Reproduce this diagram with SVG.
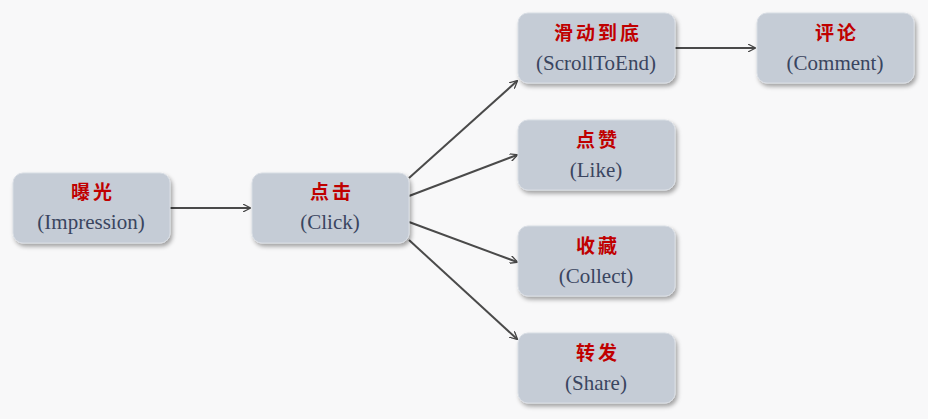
<svg xmlns="http://www.w3.org/2000/svg" width="928" height="419" viewBox="0 0 928 419">
<defs>
<filter id="sh" x="-10%" y="-10%" width="125%" height="135%"><feDropShadow dx="2" dy="3" stdDeviation="2" flood-color="#000" flood-opacity="0.35"/></filter>
<marker id="ah" viewBox="0 0 10 10" refX="9" refY="5" markerWidth="8" markerHeight="8" orient="auto" markerUnits="userSpaceOnUse"><path d="M0,0 L10,5 L0,10" fill="none" stroke="#444" stroke-width="1.6"/></marker>
<style>
.box{fill:#c5ccd6;stroke:#d8dde4;stroke-width:1;filter:url(#sh)}
.zh{font-family:"Noto Sans CJK SC",sans-serif;font-weight:bold;font-size:19px;fill:#c00000;text-anchor:middle;letter-spacing:3px}
.en{font-family:"Liberation Serif",serif;font-size:21px;fill:#3a4560;text-anchor:middle}
.c{stroke:#4a4a4a;stroke-width:2;fill:none;marker-end:url(#ah)}
</style>
</defs>
<rect width="928" height="419" fill="#f8f8f9"/>
<g id="connectors">
<line class="c" x1="170" y1="208" x2="250" y2="208"/>
<line class="c" x1="409" y1="178" x2="517" y2="81"/>
<line class="c" x1="409" y1="196" x2="517" y2="155"/>
<line class="c" x1="409" y1="222" x2="517" y2="262"/>
<line class="c" x1="409" y1="240" x2="517" y2="339"/>
<line class="c" x1="675" y1="48" x2="755" y2="48"/>
</g>
<g id="impression"><rect class="box" x="13" y="173" width="157" height="70" rx="10"/><text class="zh" x="93" y="199">曝光</text><text class="en" x="91" y="229">(Impression)</text></g>
<g id="click"><rect class="box" x="252" y="173" width="157" height="70" rx="10"/><text class="zh" x="332" y="199">点击</text><text class="en" x="330" y="229">(Click)</text></g>
<g id="scroll"><rect class="box" x="518" y="13" width="157" height="70" rx="10"/><text class="zh" x="598" y="40">滑动到底</text><text class="en" x="596" y="70">(ScrollToEnd)</text></g>
<g id="comment"><rect class="box" x="757" y="13" width="157" height="70" rx="10"/><text class="zh" x="837" y="40">评论</text><text class="en" x="835" y="70">(Comment)</text></g>
<g id="like"><rect class="box" x="518" y="120" width="157" height="70" rx="10"/><text class="zh" x="598" y="147">点赞</text><text class="en" x="596" y="177">(Like)</text></g>
<g id="collect"><rect class="box" x="518" y="226" width="157" height="70" rx="10"/><text class="zh" x="598" y="253">收藏</text><text class="en" x="596" y="283">(Collect)</text></g>
<g id="share"><rect class="box" x="518" y="333" width="157" height="70" rx="10"/><text class="zh" x="598" y="360">转发</text><text class="en" x="596" y="390">(Share)</text></g>
</svg>
